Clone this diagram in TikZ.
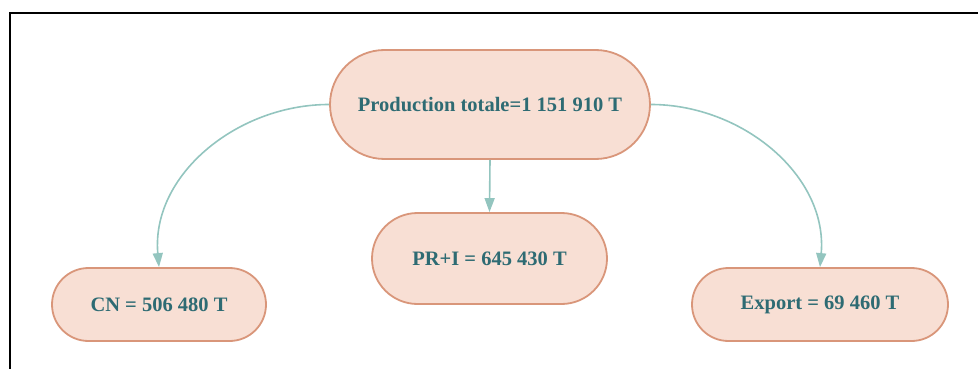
\documentclass[tikz,border=0pt]{standalone}
\usepackage{fontspec}
\setmainfont{Liberation Serif}
\usetikzlibrary{arrows.meta,shapes.misc}
\definecolor{boxfill}{HTML}{F8DFD4}
\definecolor{boxline}{HTML}{D9967A}
\definecolor{boxtext}{HTML}{2E6B73}
\definecolor{flow}{HTML}{93C5BF}
\begin{document}
\begin{tikzpicture}[x=1pt,y=-1pt,
  pill/.style={rounded rectangle, draw=boxline, fill=boxfill, line width=1.8pt,
    text=boxtext, font=\bfseries\fontsize{20.5}{23}\selectfont, inner sep=0pt},
  flowline/.style={draw=flow, line width=1.6pt, -{Triangle[length=14pt,width=10pt]}}]
  \useasboundingbox (0,0) rectangle (978,369);
  % outer frame
  \draw[line width=2pt] (9.5,372) -- (9.5,13.5) -- (982,13.5);
  % boxes
  \node[pill, minimum width=320pt, minimum height=109pt] (total) at (490,104.5) {Production totale=1 151 910 T};
  \node[pill, minimum width=214pt, minimum height=73pt] (cn) at (159,304.5) {CN = 506 480 T};
  \node[pill, minimum width=235pt, minimum height=91pt] (pri) at (489.5,258.5) {PR+I = 645 430 T};
  \node[pill, minimum width=256pt, minimum height=73pt] (exp) at (820,304.5) {Export = 69 460 T};
  % flows
  \draw[flowline] (total.west) to[out=180,in=95] (cn.north);
  \draw[flowline] (total.south) -- (pri.north);
  \draw[flowline] (total.east) to[out=0,in=85] (exp.north);
\end{tikzpicture}
\end{document}
